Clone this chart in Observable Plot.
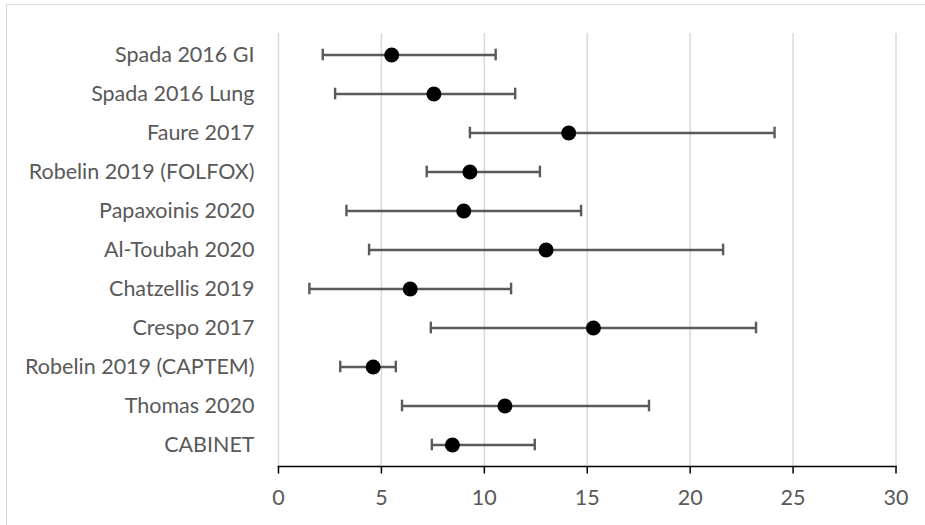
<!DOCTYPE html>
<html>
<head>
<meta charset="utf-8">
<script src="https://cdn.jsdelivr.net/npm/d3@7"></script>
<script src="https://cdn.jsdelivr.net/npm/@observablehq/plot@0.6"></script>
<style>
  html, body { margin: 0; padding: 0; background: #fff; overflow: hidden; width: 925px; height: 525px; }
  #frame { position: absolute; left: 6px; top: 4px; width: 960px; height: 560px; border: 1.5px solid #d9d9d9; box-sizing: border-box; }
  #chart { position: absolute; left: 0; top: 0; }
</style>
</head>
<body>
<div id="frame"></div>
<div id="chart"></div>
<script>
const studies = [
  "Spada 2016 GI",
  "Spada 2016 Lung",
  "Faure 2017",
  "Robelin 2019 (FOLFOX)",
  "Papaxoinis 2020",
  "Al-Toubah 2020",
  "Chatzellis 2019",
  "Crespo 2017",
  "Robelin 2019 (CAPTEM)",
  "Thomas 2020",
  "CABINET"
];
const estimate = [5.5, 7.55, 14.1, 9.3, 9.0, 13.0, 6.4, 15.3, 4.6, 11.0, 8.45];
const lower    = [2.15, 2.75, 9.3, 7.2, 3.3, 4.4, 1.5, 7.4, 3.0, 6.0, 7.45];
const upper    = [10.55, 11.5, 24.1, 12.7, 14.7, 21.6, 11.3, 23.2, 5.7, 18.0, 12.45];
const xTicks   = [0, 5, 10, 15, 20, 25, 30];

const data = studies.map((s, i) => ({study: s, est: estimate[i], lo: lower[i], hi: upper[i]}));

const FONT = "Lato, 'Open Sans', sans-serif";
const TEXT = "#595959";
const BAR = "#5a5a5a";

const chart = Plot.plot({
  width: 925,
  height: 525,
  marginLeft: 278,
  marginRight: 29.5,
  marginTop: 33,
  marginBottom: 59,
  style: {fontFamily: FONT, background: "transparent", overflow: "visible"},
  x: {domain: [0, 30], ticks: xTicks},
  y: {domain: studies, padding: 0},
  marks: [
    Plot.gridX(xTicks, {stroke: "#d9d9d9", strokeOpacity: 1, strokeWidth: 1.5}),
    Plot.ruleY(data, {y: "study", x1: "lo", x2: "hi", stroke: BAR, strokeWidth: 2.4}),
    Plot.tickX(data, {x: "lo", y: "study", stroke: BAR, strokeWidth: 2.4, insetTop: 13.7, insetBottom: 13.7}),
    Plot.tickX(data, {x: "hi", y: "study", stroke: BAR, strokeWidth: 2.4, insetTop: 13.7, insetBottom: 13.7}),
    Plot.dot(data, {x: "est", y: "study", r: 7.5, fill: "black", stroke: "none"}),
    Plot.frame({anchor: "bottom", stroke: "black", strokeWidth: 1.5}),
    Plot.axisX(xTicks, {anchor: "bottom", tickSize: 7.5, tickPadding: 16, stroke: "black", strokeWidth: 1.5, fill: TEXT, fontSize: 21.5, label: null}),
    Plot.axisY({anchor: "left", tickSize: 0, tickPadding: 24, fill: TEXT, fontSize: 21.5, label: null})
  ]
});
document.getElementById("chart").appendChild(chart);
</script>
</body>
</html>
